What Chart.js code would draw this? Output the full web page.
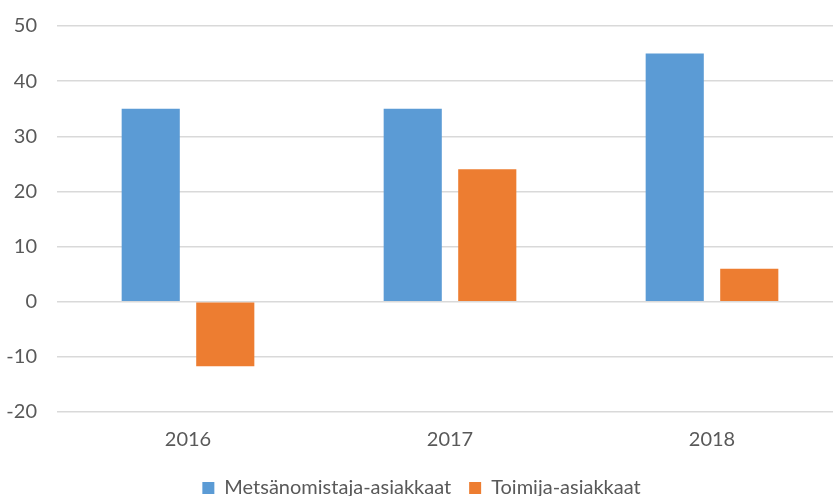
<!DOCTYPE html>
<html>
<head>
<meta charset="utf-8">
<script src="https://cdn.jsdelivr.net/npm/chart.js@4"></script>
<style>
  html, body { margin: 0; padding: 0; background: #fff; overflow: hidden; }
  #wrap { width: 833px; height: 496px; overflow: hidden; position: relative; }
  #box { width: 872px; height: 514px; position: absolute; left: 0; top: -6px; }
</style>
</head>
<body>
<div id="wrap"><div id="box"><canvas id="chart"></canvas></div></div>
<script>
const years = ['2016', '2017', '2018'];
const forestOwners = [35, 35, 45];
const operators = [-11.7, 24, 6];
const seriesNames = ['Metsänomistaja-asiakkaat', 'Toimija-asiakkaat'];

const textColor = '#595959';
const fontFamily = 'Lato, "Open Sans", sans-serif';

const ctx = document.getElementById('chart').getContext('2d');
const chart = new Chart(ctx, {
    type: 'bar',
    data: {
        labels: years,
        datasets: [{
            label: seriesNames[0],
            data: forestOwners,
            backgroundColor: '#5b9bd5',
            borderWidth: 0
        }, {
            label: seriesNames[1],
            data: operators,
            backgroundColor: '#ed7d31',
            borderWidth: 0
        }]
    },
    options: {
        responsive: true,
        maintainAspectRatio: false,
        animation: false,
        categoryPercentage: 0.569,
        barPercentage: 0.78,
        layout: {
            padding: { top: 7, right: 29, left: 0, bottom: 0 }
        },
        plugins: {
            tooltip: { enabled: false },
            legend: {
                position: 'bottom',
                labels: {
                    color: textColor,
                    font: { family: fontFamily, size: 20 },
                    boxWidth: 12,
                    boxHeight: 12,
                    padding: 18
                }
            }
        },
        scales: {
            x: {
                grid: { display: false },
                border: { display: false },
                ticks: {
                    color: textColor,
                    font: { family: fontFamily, size: 20 },
                    padding: 8
                }
            },
            y: {
                min: -20,
                max: 50,
                ticks: {
                    stepSize: 10,
                    color: textColor,
                    font: { family: fontFamily, size: 20 },
                    padding: 20
                },
                grid: { color: '#d9d9d9', lineWidth: 1.5, drawTicks: false },
                border: { display: false },
                afterFit: function (scale) { scale.width = 57; }
            }
        }
    }
});
</script>
</body>
</html>
